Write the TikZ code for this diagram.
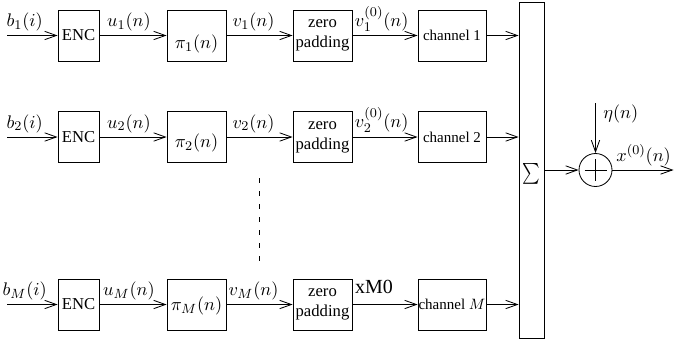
\documentclass[tikz,border=0pt]{standalone}
\usepackage[no-math]{fontspec}
\setmainfont{Liberation Serif}
\usetikzlibrary{arrows.meta,calc}
\begin{document}
\begin{tikzpicture}[x=0.6pt,y=-0.6pt,
  blk/.style={draw, line width=0.5pt, minimum height=30.6pt, inner sep=1pt, font=\rmfamily\normalsize},
  encbox/.style={blk, minimum width=24.6pt},
  pibox/.style={blk, minimum width=35.4pt},
  zpbox/.style={blk, minimum width=35.4pt, align=center},
  chbox/.style={blk, minimum width=40.8pt, inner sep=0.3pt, font=\rmfamily\small},
  arr/.style={line width=0.5pt, -{Straight Barb[length=7pt,width=5pt]}},
  mth/.style={font=\fontsize{11}{13}\selectfont},
  lbl/.style={mth, anchor=south, inner sep=0pt, yshift=2.4pt},
]
\useasboundingbox (0,0) rectangle (674,344);

% row 1
\node[encbox] (enc1) at (78.5,35.5) {ENC};
\node[pibox, label={[mth, yshift=-5pt]center:$\pi_1(n)$}] (pi1) at (196.5,35.5) {};
\node[zpbox] (zp1) at (322.5,35.5) {zero\\padding};
\node[chbox] (ch1) at (452,35.5) {channel 1};
\coordinate (in1) at (7,35.5);

% row 2
\node[encbox] (enc2) at (78.5,137) {ENC};
\node[pibox, label={[mth, yshift=-3.6pt]center:$\pi_2(n)$}] (pi2) at (196.5,137) {};
\node[zpbox] (zp2) at (322.5,137) {zero\\padding};
\node[chbox] (ch2) at (452,137) {channel 2};
\coordinate (in2) at (7,137);

% row M
\node[encbox] (encM) at (78.5,304.5) {ENC};
\node[pibox, label={[mth, yshift=-1pt]center:$\pi_M(n)$}] (piM) at (196.5,304.5) {};
\node[zpbox] (zpM) at (322.5,304.5) {zero\\padding};
\node[chbox] (chM) at (452,304.5) {channel $M$};
\coordinate (inM) at (7,304.5);

% summation
\node[draw, line width=0.5pt, minimum width=15pt, minimum height=201.6pt, inner sep=0pt,
      label={[yshift=-2.4pt]center:\scalebox{1}[1.25]{$\textstyle\sum$}}] (sum) at (531.5,170) {};

% adder
\node[circle, draw, line width=0.5pt, minimum size=19.8pt, inner sep=0pt] (add) at (595.5,170) {};
\draw[line width=0.5pt] ($(add.center)+(-11,0)$) -- ($(add.center)+(11,0)$);
\draw[line width=0.5pt] ($(add.center)+(0,-11)$) -- ($(add.center)+(0,11)$);
\coordinate (eta) at (595.5,103);
\coordinate (out) at (673.5,170);

% connectors row 1
\draw[arr] (in1) -- node[lbl,pos=0.35]{$b_1(i)$} (enc1);
\draw[arr] (enc1) -- node[lbl,pos=0.44]{$u_1(n)$} (pi1);
\draw[arr] (pi1) -- node[lbl,pos=0.41]{$v_1(n)$} (zp1);
\draw[arr] (zp1) -- node[lbl,pos=0.45]{$v_1^{(0)}(n)$} (ch1);
\draw[arr] (ch1) -- (ch1 -| sum.west);

% connectors row 2
\draw[arr] (in2) -- node[lbl,pos=0.35]{$b_2(i)$} (enc2);
\draw[arr] (enc2) -- node[lbl,pos=0.44]{$u_2(n)$} (pi2);
\draw[arr] (pi2) -- node[lbl,pos=0.41]{$v_2(n)$} (zp2);
\draw[arr] (zp2) -- node[lbl,pos=0.45]{$v_2^{(0)}(n)$} (ch2);
\draw[arr] (ch2) -- (ch2 -| sum.west);

% connectors row M
\draw[arr] (inM) -- node[lbl,pos=0.35]{$b_M(i)$} (encM);
\draw[arr] (encM) -- node[lbl,pos=0.44]{$u_M(n)$} (piM);
\draw[arr] (piM) -- node[lbl,pos=0.41]{$v_M(n)$} (zpM);
\draw[arr] (zpM) -- node[anchor=south, inner sep=0pt, yshift=6pt, pos=0.33, font=\rmfamily\large]{xM0} (chM);
\draw[arr] (chM) -- (chM -| sum.west);

% output side
\draw[arr] (sum) -- (add);
\draw[arr] (eta) -- node[mth, pos=0.22, right, inner sep=0pt, xshift=4.5pt]{$\eta(n)$} (add);
\draw[arr] (add) -- node[lbl,pos=0.51]{$x^{(0)}(n)$} (out);

% dots between rows
\coordinate (d1) at (259,178);
\coordinate (d2) at (259,262);
\draw[line width=0.5pt, dash pattern=on 3pt off 4.8pt] (d1) -- (d2);
\end{tikzpicture}
\end{document}
